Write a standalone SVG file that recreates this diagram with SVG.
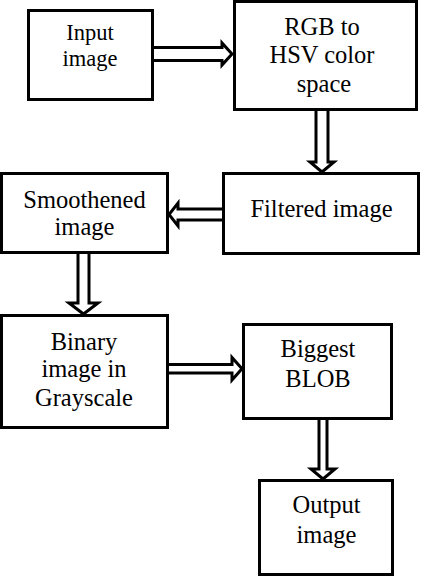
<svg xmlns="http://www.w3.org/2000/svg" width="422" height="576" viewBox="0 0 422 576">
<style>
.box{fill:#fff;stroke:#000;stroke-width:3}
.arr{fill:#fff;stroke:#000;stroke-width:3;stroke-linejoin:miter;stroke-miterlimit:10}
text{font-family:"Liberation Serif","Times New Roman",serif;font-size:24.5px;fill:#000;text-anchor:middle}
.sm{font-size:22.5px}
</style>
<rect width="422" height="576" fill="#fff"/>
<g id="connectors">
<path class="arr" d="M153,47.5 H222 V43 L232,54 L222,65 V60.5 H153"/>
<path class="arr" d="M316,111 V162 H310 L322,172 L334,162 H328 V111"/>
<path class="arr" d="M222,209 H178 V203 L169,214.5 L178,226 V220 H222"/>
<path class="arr" d="M78,254 V303 H69 L83.5,314 L98,303 H89 V254"/>
<path class="arr" d="M169,364.5 H232 V357.5 L242,368.75 L232,380 V373 H169"/>
<path class="arr" d="M319,420 V469 H311 L323,479 L335,469 H327 V420"/>
</g>
<g id="input">
<rect class="box" x="28.5" y="10.5" width="124" height="89"/>
<text class="sm" x="90" y="40">Input</text>
<text class="sm" x="90" y="66">image</text>
</g>
<g id="rgb2hsv">
<rect class="box" x="234.5" y="1.5" width="182" height="108"/>
<text x="322" y="35">RGB to</text>
<text x="322" y="63">HSV color</text>
<text x="324" y="92">space</text>
</g>
<g id="filtered">
<rect class="box" x="223.5" y="173.5" width="195" height="80"/>
<text x="321.5" y="217">Filtered image</text>
</g>
<g id="smoothened">
<rect class="box" x="1.5" y="173.5" width="166" height="79"/>
<text x="84.5" y="208">Smoothened</text>
<text x="84.5" y="235">image</text>
</g>
<g id="binary">
<rect class="box" x="1.5" y="315.5" width="166" height="112"/>
<text x="84" y="350">Binary</text>
<text x="84" y="377">image in</text>
<text x="84" y="406">Grayscale</text>
</g>
<g id="blob">
<rect class="box" x="243.5" y="324.5" width="148" height="94"/>
<text x="318" y="357">Biggest</text>
<text x="318" y="387">BLOB</text>
</g>
<g id="output">
<rect class="box" x="259.5" y="480.5" width="133" height="94"/>
<text x="326.5" y="513">Output</text>
<text x="326.5" y="543">image</text>
</g>
</svg>
